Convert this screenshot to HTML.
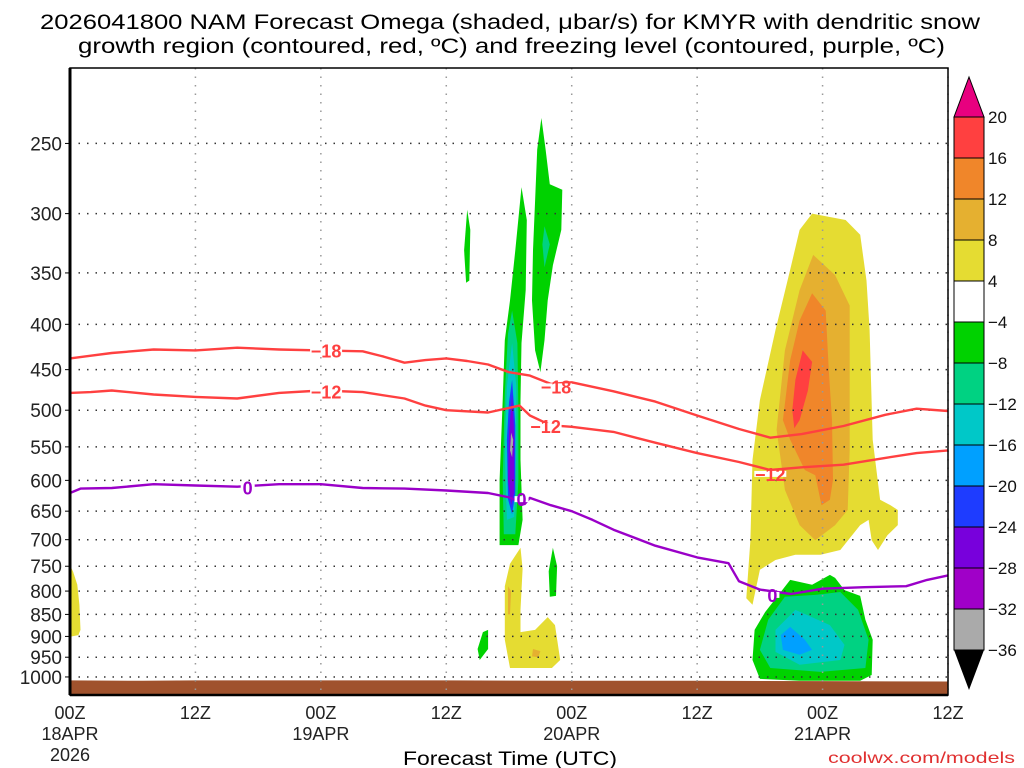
<!DOCTYPE html>
<html><head><meta charset="utf-8"><style>
body{margin:0;background:#fff;}
svg{display:block;font-family:"Liberation Sans",sans-serif;}
</style></head><body>
<svg id="chart" width="1024" height="768" xmlns="http://www.w3.org/2000/svg">
<text x="40" y="29" font-size="21" textLength="940" lengthAdjust="spacingAndGlyphs">2026041800 NAM Forecast Omega (shaded, μbar/s) for KMYR with dendritic snow</text>
<text x="78" y="53" font-size="21" textLength="867" lengthAdjust="spacingAndGlyphs">growth region (contoured, red, ºC) and freezing level (contoured, purple, ºC)</text>
<g id="shade"></g>
<g id="grid"></g>
<g id="lines"></g>
<g id="axes"></g>
<g id="cbar"></g>
<text x="403" y="765" font-size="19" textLength="214" lengthAdjust="spacingAndGlyphs">Forecast Time (UTC)</text>
<text x="828" y="763" font-size="16" textLength="187" lengthAdjust="spacingAndGlyphs" fill="#e03030">coolwx.com/models</text>
</svg>
<script>
// ---- data ----
const pTicks=[250,300,350,400,450,500,550,600,650,700,750,800,850,900,950,1000];
const xTickHours=[0,12,24,36,48,60,72,84];
const xTickLabels=[["00Z","18APR","2026"],["12Z"],["00Z","19APR"],["12Z"],["00Z","20APR"],["12Z"],["00Z","21APR"],["12Z"]];
const cbarLevels=["20","16","12","8","4","-4","-8","-12","-16","-20","-24","-28","-32","-36"];
const cbarColors=["#ff4040","#f0862a","#e5b030","#e5dc32","#ffffff","#00d200","#00d282","#00c8c8","#00a0ff","#1e3cff","#7800dc","#a000c8","#aaaaaa"];
const line18=[[0,437],[2,434],[4,431],[8,427],[12,428],[16,425],[20,427],[24,428],[28,429],[30,435],[32,442],[34,439],[36,437],[38,440],[40,444],[42,453],[44,457],[46,467],[48,465],[52,476],[56,489],[60,507],[64,525],[67,537],[70,532],[74,521],[78,506],[81,498],[84,501]];
const line12=[[0,478],[2,477],[4,475],[8,480],[12,483],[16,485],[20,478],[24,475],[28,477],[32,485],[34,494],[36,500],[40,503],[42,497],[43,494],[44,507],[46,520],[48,522],[52,529],[56,544],[60,559],[64,572],[67,584],[70,580],[74,576],[78,566],[81,559],[84,555]];
const line0=[[0,620],[1,613],[4,612],[8,606],[12,608],[16,610],[20,606],[24,606],[28,612],[32,613],[36,616],[40,620],[42,627],[43.5,638],[44,628],[46,640],[48,650],[50,665],[52,682],[56,711],[60,733],[63,744],[64,780],[66,797],[69,806],[72,795],[76,792],[80,790],[82,777],[84,768]];
const labels18=[[24.5,428],[46.5,470]];
const labels12=[[24.5,476],[45.5,521],[67,590]];
const labels0=[[17,611],[43.2,630],[67.2,808]];
const surfHours=[0,7,12,24,36,48,60,72,84];
const surfP=[1009,1010,1009,1009,1009,1010,1010,1011,1012];
const shadePolys=[
 ["#e5dc32",[71.0,300,74.2,305,75.6,317,76.2,357,76.5,406,76.8,540,77.5,631,78.5,640,79.2,648,79.2,674,78.2,692,77.3,719,76.7,701,76.4,665,75.6,674,73.7,719,71.8,728,69.4,728,67.5,738,66.0,757,65.3,829,64.7,815,65.1,701,65.3,569,66.0,487,67.5,406,68.9,347,69.8,313]],
 ["#e5b030",[71.1,334,73.2,352,74.6,381,74.6,451,74.6,554,74.4,648,73.2,674,71.3,701,69.8,674,68.4,615,67.6,526,68.4,428,69.8,366]],
 ["#f0862a",[71.0,369,72.3,386,72.6,451,72.9,513,73.0,599,72.7,631,71.9,640,71.3,592,70.3,584,68.9,540,68.2,513,68.9,439,69.8,396]],
 ["#ff4040",[70.1,428,71.0,441,70.6,475,69.8,513,69.3,524,69.1,500,69.4,462]],
 ["#00d200",[73.2,773,74.1,798,75.6,810,76.1,862,76.8,908,76.7,995,75.6,1010,69.8,1010,66.0,1005,65.3,957,65.5,885,66.5,845,68.9,777,71.0,787,72.7,767]],
 ["#00d282",[73.7,802,75.4,840,76.4,908,76.1,977,71.8,987,67.0,977,66.0,932,66.8,862,68.4,812,71.3,808]],
 ["#00c8c8",[69.4,840,72.7,874,74.1,920,73.7,957,69.8,969,67.5,937,67.5,885]],
 ["#00a0ff",[68.9,878,70.3,908,71.0,932,69.8,944,68.2,932,68.0,897]],
 ["#e5dc32",[0,748,0.3,761,0.7,787,0.9,829,1.0,885,0.8,897,0,901]],
 ["#00d200",[43.2,280,43.7,305,43.6,366,43.2,420,43.1,487,43.1,569,43.3,665,42.9,710,41.1,710,41.1,599,41.4,487,41.6,417,42.1,376,42.6,330]],
 ["#00d282",[42.3,386,42.8,420,42.9,500,42.9,600,42.6,690,41.5,690,41.4,600,41.6,480,41.9,410]],
 ["#00c8c8",[42.3,420,42.7,470,42.7,560,42.5,660,41.8,665,41.6,560,41.8,470]],
 ["#1e3cff",[42.3,462,42.6,520,42.6,620,42.3,655,41.9,630,41.8,540,42.0,490]],
 ["#7800dc",[42.3,480,42.5,530,42.5,620,42.2,640,41.9,600,42.0,530]],
 ["#aaaaaa",[42.2,530,42.4,540,42.3,565,42.1,555]],
 ["#00d200",[45.1,234,45.5,254,45.9,278,47.1,282,47.0,313,46.2,343,45.7,376,45.4,417,45.0,453,44.5,428,44.2,376,44.3,330,44.5,290,44.7,254]],
 ["#00d282",[45.4,310,45.9,325,45.4,345,45.2,325]],
 ["#00d200",[38.0,297,38.3,313,38.2,357,37.9,359,37.7,330]],
 ["#00d200",[46.2,715,46.6,750,46.5,810,45.9,812,45.8,760]],
 ["#00d200",[40.0,885,40.0,930,39.2,957,39.0,930,39.5,890]],
 ["#e5dc32",[43.1,715,43.3,755,43.1,840,43.1,890,44.5,885,45.7,856,46.4,874,46.9,957,46.1,977,42.1,977,41.6,908,41.6,790,42.1,745]],
 ["#e5b030",[41.9,790,42.2,800,42.1,850,41.9,850]],
 ["#e5b030",[44.3,930,45.0,935,44.8,950,44.2,948]]
];
// ---- scales ----
const X0=70,X1=948,Y0=68,Y1=695,H=84,PT=205.5,PB=1048;
const NS="http://www.w3.org/2000/svg";
function xs(h){return X0+(X1-X0)*h/H;}
function ys(p){return Y0+(Y1-Y0)*Math.log(p/PT)/Math.log(PB/PT);}
function mk(tag,attrs,parent){const e=document.createElementNS(NS,tag);for(const k in attrs)e.setAttribute(k,attrs[k]);parent.appendChild(e);return e;}
const gS=document.getElementById('shade'),gG=document.getElementById('grid'),gL=document.getElementById('lines'),gA=document.getElementById('axes'),gC=document.getElementById('cbar');
shadePolys.forEach((sp,i)=>{const a=sp[1];let pts=[];for(let j=0;j<a.length;j+=2)pts.push(xs(a[j]).toFixed(1)+","+ys(a[j+1]).toFixed(1));
 const e=mk('polygon',{points:pts.join(' '),fill:sp[0]},gS);
 
 });
{let pts=[xs(0)+","+Y1];surfHours.forEach((h,i)=>{pts.push(xs(h)+","+ys(surfP[i]));});pts.push(xs(H)+","+Y1);
 const e=mk('polygon',{points:pts.join(' '),fill:"#a0522d"},gS);
 
 }
pTicks.forEach(p=>{const y=ys(p);
 const g=mk('line',{x1:X0,x2:X1,y1:y,y2:y,stroke:"#333",'stroke-width':1.5,'stroke-dasharray':"1.5 7"},gG);
 
 
 const t=mk('text',{x:X0-8,y:y+7,'font-size':19,'text-anchor':'end',fill:'#222'},gA);t.textContent=p;
 
 
 mk('line',{x1:X0-5,x2:X0,y1:y,y2:y,stroke:'#000'},gA);});
xTickHours.forEach((h,i)=>{const x=xs(h);
 const g=mk('line',{x1:x,x2:x,y1:Y0,y2:Y1,stroke:"#999",'stroke-width':1.5,'stroke-dasharray':"1.5 7"},gG);
 
 
 xTickLabels[i].forEach((s,j)=>{const t=mk('text',{x:x,y:Y1+24+j*21,'font-size':18,'text-anchor':'middle',fill:'#222'},gA);t.textContent=s;
  
  });});
function drawLine(arr,color,name){const d=arr.map((q,i)=>(i?'L':'M')+xs(q[0]).toFixed(1)+','+ys(q[1]).toFixed(1)).join(' ');
 const e=mk('path',{d:d,fill:'none',stroke:color,'stroke-width':2.4,'stroke-linejoin':'round'},gL);
 
 }
drawLine(line18,'#ff4040','contour-minus18');
drawLine(line12,'#ff4040','contour-minus12');
drawLine(line0,'#9a00c8','freezing-level-0');
function drawLabels(arr,txt,color,w){arr.forEach(q=>{const x=xs(q[0]),y=ys(q[1]);
 mk('rect',{x:x-w/2,y:y-3,width:w,height:6,fill:'#fff'},gL);
 const t=mk('text',{x:x,y:y+7,'font-size':18,'font-weight':'bold','text-anchor':'middle',fill:color},gL);t.textContent=txt;
 
 });}
drawLabels(labels18,'−18','#ff4040',32);
drawLabels(labels12,'−12','#ff4040',32);
drawLabels(labels0,'0','#9a00c8',14);
mk('rect',{x:X0,y:Y0,width:X1-X0,height:Y1-Y0,fill:'none',stroke:'#000','stroke-width':1.5},gA);
mk('line',{x1:X0,x2:X0,y1:Y0,y2:Y1,stroke:'#000','stroke-width':3},gA);
mk('line',{x1:X0,x2:X1,y1:Y1,y2:Y1,stroke:'#000','stroke-width':2.5},gA);
const CX=954,CW=30,CT=117,CH=41;
mk('polygon',{points:`${CX},${CT} ${CX+CW},${CT} ${CX+CW/2},${CT-40}`,fill:'#e8007f',stroke:'#000'},gC);
cbarColors.forEach((c,i)=>{const r=mk('rect',{x:CX,y:CT+i*CH,width:CW,height:CH,fill:c,stroke:'#000','stroke-width':1},gC);
 
 });
const CB=CT+cbarColors.length*CH;
mk('polygon',{points:`${CX},${CB} ${CX+CW},${CB} ${CX+CW/2},${CB+40}`,fill:'#000'},gC);
cbarLevels.forEach((s,i)=>{const t=mk('text',{x:CX+CW+4,y:CT+i*CH+6,'font-size':17,fill:'#111'},gC);t.textContent=s.replace('-','−');
 
 });
</script>
</body></html>
